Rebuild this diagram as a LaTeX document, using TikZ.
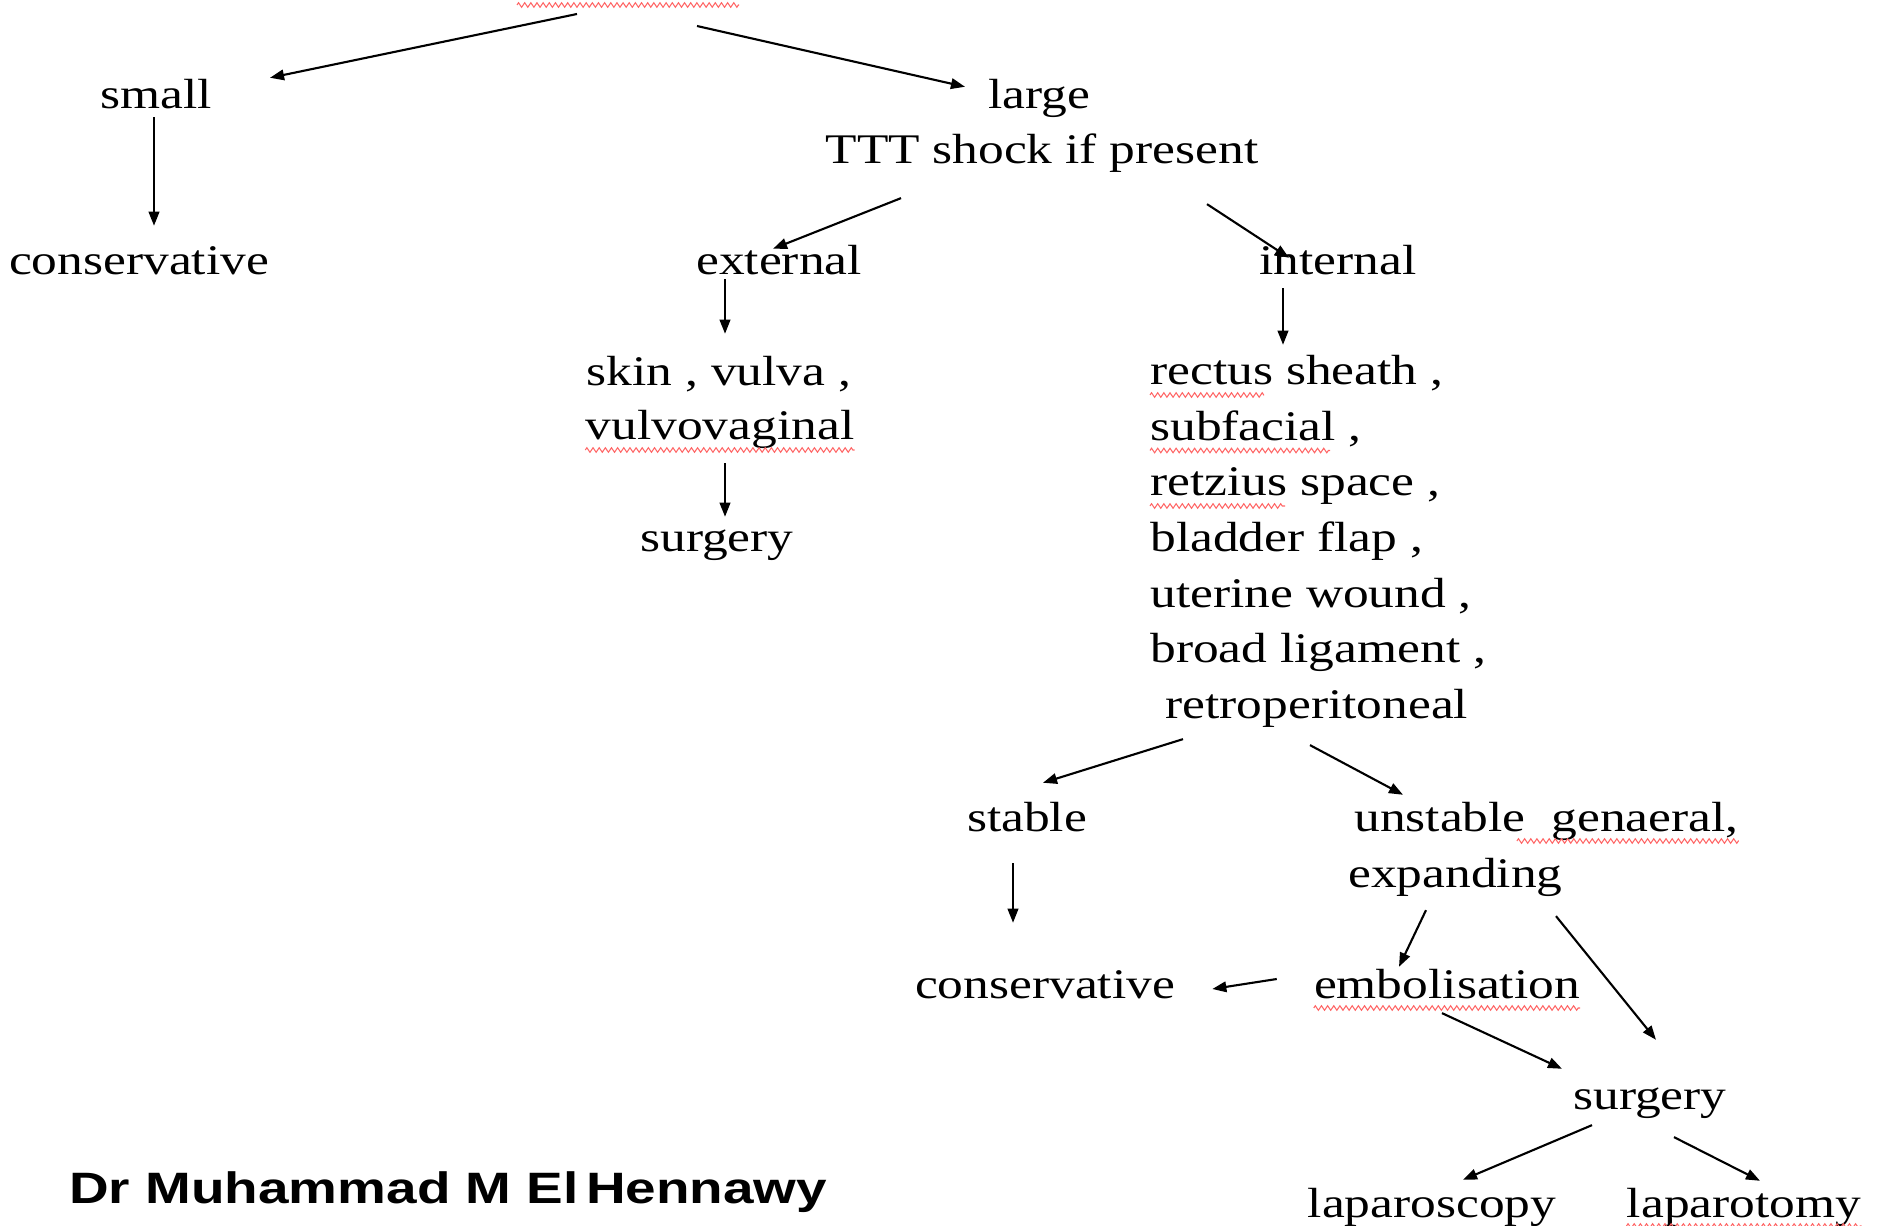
\documentclass[tikz,border=0pt]{standalone}
\usepackage{fontspec}
\setmainfont[FakeStretch=1.22]{Liberation Serif}
\newfontfamily\signfont[FakeStretch=1.25]{Liberation Sans}
\usetikzlibrary{arrows.meta,calc,decorations.pathmorphing}

\begin{document}
\begin{tikzpicture}[x=0.02cm, y=-0.02cm, >={Stealth[length=8pt,width=6pt,inset=0pt]},
  every node/.style={inner sep=0pt, text height=17pt, text depth=5pt, anchor=base, font=\fontsize{24}{30}\selectfont},
  link/.style={->, line width=1.2pt},
  squiggle/.style={red!60!white, line width=0.6pt, decorate, decoration={zigzag, amplitude=1.3pt, segment length=3.5pt}}]
\useasboundingbox (0,0) rectangle (1884,1226);
% title is cut off at the top
\coordinate (titleL) at (577,14);
\coordinate (titleR) at (697,26);
\draw[squiggle] (517,5) -- (739,5);
\node (small) at (156,109) {small};
\node (large) at (1039,109) {large};
\node (ttt) at (1042,164) {TTT shock if present};
\node (consL) at (139,275) {conservative};
\node (external) at (779,275) {external};
\node (internal) at (1338,275) {internal};
\node (skin) at (719,386) {skin , vulva ,};
\node (vulvo) at (720,440) {vulvovaginal};
\node (surgL) at (717,552) {surgery};
\foreach \t [count=\i] in {{rectus sheath ,},{subfacial ,},{retzius space ,},{bladder flap ,},{uterine wound ,},{broad ligament ,}}
    \node[anchor=base west] (site\i) at (1150,{385+55.5*(\i-1)}) {\t};
\node[anchor=base west] (retro) at (1165,718) {retroperitoneal};
\node (stable) at (1027,831) {stable};
\node[anchor=base west] (unstable) at (1354,831) {unstable\ \ genaeral,};
\node[anchor=base west] (expanding) at (1348,887) {expanding};
\node (consB) at (1045,998) {conservative};
\node (embol) at (1447,998) {embolisation};
\node (surgB) at (1650,1109) {surgery};
\node (lapS) at (1432,1217) {laparoscopy};
\node (lapT) at (1744,1217) {laparotomy};
\node[anchor=base west, font=\signfont\bfseries\fontsize{25}{30}\selectfont] (sign) at (69,1203) {Dr Muhammad M El\,Hennawy};
% arrows
\draw[link] (titleL) -- ($(small.north)+(114,-1)$);
\draw[link] (titleR) -- ($(large.north)+(-74,8)$);
\draw[link] ($(small.south)+(-2,-1)$) -- ($(consL.north)+(15,-19)$);
\draw[link] ($(ttt.south)+(-141,25)$) -- ($(external.north)+(-6,4)$);
\draw[link] ($(ttt.south)+(165,31)$) -- ($(internal.north)+(-49,13)$);
\draw[link] ($(external.south)+(-54,-5)$) -- ($(skin.north)+(6,-22)$);
\draw[link] ($(internal.south)+(-55,4)$) -- ($(site1.north west)+(133,-10)$);
\draw[link] ($(vulvo.south)+(5,14)$) -- ($(surgL.north)+(8,-5)$);
\draw[link] ($(retro.south west)+(18,12)$) -- ($(stable.north)+(16,-18)$);
\draw[link] ($(retro.south west)+(145,18)$) -- ($(unstable.north west)+(49,-6)$);
\draw[link] ($(stable.south)+(-14,23)$) -- ($(consB.north)+(-32,-45)$);
\draw[link] ($(expanding.south west)+(78,14)$) -- ($(embol.north)+(-48,-1)$);
\draw[link] ($(expanding.south west)+(208,20)$) -- ($(surgB.north)+(6,-39)$);
\draw[link] ($(embol.base west)+(-37,-19)$) -- ($(consB.base east)+(37,-9)$);
\draw[link] ($(embol.south)+(-5,6)$) -- ($(surgB.north)+(-88,-10)$);
\draw[link] ($(surgB.south)+(-58,7)$) -- ($(lapS.north)+(31,-7)$);
\draw[link] ($(surgB.south)+(24,19)$) -- ($(lapT.north)+(16,-6)$);
% spelling marks
\draw[squiggle] ($(vulvo.base west)+(0,10)$) -- ($(vulvo.base east)+(0,10)$);
\draw[squiggle] ($(site1.base west)+(0,10)$) -- +(114,0);
\draw[squiggle] ($(site2.base west)+(0,10)$) -- +(180,0);
\draw[squiggle] ($(site3.base west)+(0,10)$) -- +(135,0);
\draw[squiggle] ($(unstable.base east)+(-222,10)$) -- ($(unstable.base east)+(0,10)$);
\draw[squiggle] ($(embol.base west)+(0,10)$) -- ($(embol.base east)+(0,10)$);
\draw[squiggle] ($(lapT.base west)+(0,9)$) -- ($(lapT.base east)+(0,9)$);
\end{tikzpicture}
\end{document}
